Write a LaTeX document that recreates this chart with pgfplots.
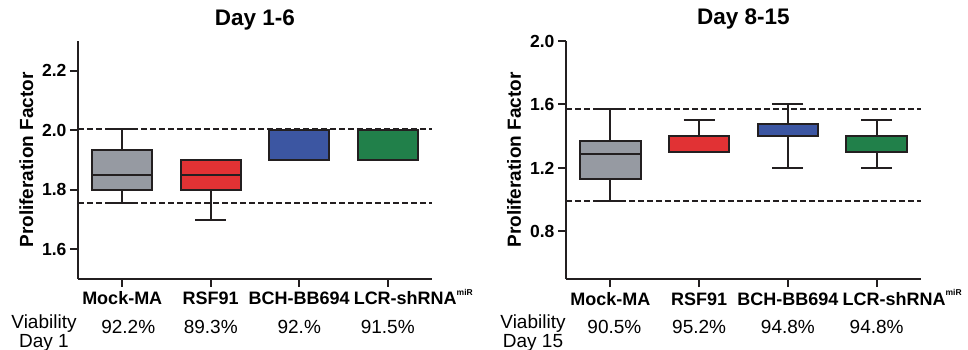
\documentclass[border=0pt]{standalone}
\usepackage{fontspec}
\setmainfont{Liberation Sans}
\usepackage{pgfplots}
\pgfplotsset{compat=1.18}
\usepgfplotslibrary{statistics}
\definecolor{cgray}{HTML}{969AA2}
\definecolor{cred}{HTML}{E13234}
\definecolor{cblue}{HTML}{3C56A2}
\definecolor{cgreen}{HTML}{21804A}
\definecolor{cline}{HTML}{231F20}
\tikzset{vt/.style={font=\fontsize{19}{19}\selectfont, anchor=base}}
\pgfplotsset{
  myaxis/.style={
    scale only axis, height=238pt,
    axis x line*=bottom, axis y line*=left,
    axis line style={line width=2pt, cline},
    xmin=-0.5, xmax=3.5,
    xtick={0,1,2,3},
    xticklabels={Mock-MA,RSF91,BCH-BB694,{\makebox[0pt][l]{\hspace*{-34pt}LCR-shRNA\raisebox{0.55em}{\fontsize{8.5}{8.5}\selectfont miR}}}},
    tick align=outside, major tick length=8pt,
    every tick/.style={line width=2pt, cline},
    ticklabel style={font=\fontsize{18}{18}\selectfont\bfseries},
    yticklabel style={font=\fontsize{17.5}{17.5}\selectfont\bfseries},
    xticklabel style={anchor=base, yshift=-18pt},
    /pgf/number format/assume math mode=true,
    /pgf/number format/fixed, /pgf/number format/fixed zerofill, /pgf/number format/precision=1,
    clip=false,
    title style={font=\fontsize{22.5}{22.5}\selectfont\bfseries, at={(axis description cs:0.5,1)}, anchor=base, yshift=10pt},
    ylabel style={font=\fontsize{19}{19}\selectfont\bfseries, at={(axis description cs:-0.146,0.5)}, anchor=center},
    boxplot/draw direction=y,
    boxplot/box extend=0.68, boxplot/whisker extend=0.35,
  },
  bx/.style={line width=2pt, draw=cline, fill=#1},
  dl/.style={cline, line width=1.8pt, dash pattern=on 6pt off 3pt},
}
\begin{document}
\begin{tikzpicture}
\useasboundingbox (0,0) rectangle (968pt,350pt);
\begin{axis}[myaxis, at={(78pt,71pt)}, anchor=south west, width=354pt,
  ymin=1.5, ymax=2.3, ytick={1.6,1.8,2.0,2.2},
  title={Day 1-6}, ylabel={Proliferation Factor}]
\addplot[bx=cgray, boxplot prepared={draw position=0, draw direction=y, lower whisker=1.755, lower quartile=1.8, median=1.85, upper quartile=1.935, upper whisker=2.005}] coordinates {};
\addplot[bx=cred, boxplot prepared={draw position=1, draw direction=y, lower whisker=1.7, lower quartile=1.8, median=1.85, upper quartile=1.9, upper whisker=1.9}] coordinates {};
\addplot[bx=cblue, boxplot prepared={draw position=2, draw direction=y, lower whisker=1.9, lower quartile=1.9, median=2.0, upper quartile=2.0, upper whisker=2.0}] coordinates {};
\addplot[bx=cgreen, boxplot prepared={draw position=3, draw direction=y, lower whisker=1.9, lower quartile=1.9, median=2.0, upper quartile=2.0, upper whisker=2.0}] coordinates {};
\addplot[dl] coordinates {(-0.5,2.005) (3.5,2.005)};
\addplot[dl] coordinates {(-0.5,1.755) (3.5,1.755)};
\node[vt] at ([yshift=-54pt,xshift=6pt]axis cs:0,1.5) {92.2\%};
\node[vt] at ([yshift=-54pt]axis cs:1,1.5) {89.3\%};
\node[vt] at ([yshift=-54pt]axis cs:2,1.5) {92.\%};
\node[vt] at ([yshift=-54pt]axis cs:3,1.5) {91.5\%};
\node[font=\fontsize{19}{17}\selectfont, align=center, anchor=base] at ([yshift=-68pt,xshift=-34pt]rel axis cs:0,0) {Viability\\Day 1};
\end{axis}
\begin{axis}[myaxis, at={(566pt,71pt)}, anchor=south west, width=355pt,
  ymin=0.5, ymax=2.0, ytick={0.8,1.2,1.6,2.0},
  title={Day 8-15}, ylabel={Proliferation Factor}]
\addplot[bx=cgray, boxplot prepared={draw position=0, draw direction=y, lower whisker=0.99, lower quartile=1.13, median=1.29, upper quartile=1.37, upper whisker=1.57}] coordinates {};
\addplot[bx=cred, boxplot prepared={draw position=1, draw direction=y, lower whisker=1.3, lower quartile=1.3, median=1.3, upper quartile=1.4, upper whisker=1.5}] coordinates {};
\addplot[bx=cblue, boxplot prepared={draw position=2, draw direction=y, lower whisker=1.2, lower quartile=1.4, median=1.4, upper quartile=1.475, upper whisker=1.6}] coordinates {};
\addplot[bx=cgreen, boxplot prepared={draw position=3, draw direction=y, lower whisker=1.2, lower quartile=1.3, median=1.3, upper quartile=1.4, upper whisker=1.5}] coordinates {};
\addplot[dl] coordinates {(-0.5,1.57) (3.5,1.57)};
\addplot[dl] coordinates {(-0.5,0.99) (3.5,0.99)};
\node[vt] at ([yshift=-54pt,xshift=4pt]axis cs:0,0.5) {90.5\%};
\node[vt] at ([yshift=-54pt]axis cs:1,0.5) {95.2\%};
\node[vt] at ([yshift=-54pt]axis cs:2,0.5) {94.8\%};
\node[vt] at ([yshift=-54pt]axis cs:3,0.5) {94.8\%};
\node[font=\fontsize{19}{17}\selectfont, align=center, anchor=base] at ([yshift=-68pt,xshift=-33pt]rel axis cs:0,0) {Viability\\Day 15};
\end{axis}
\end{tikzpicture}
\end{document}
